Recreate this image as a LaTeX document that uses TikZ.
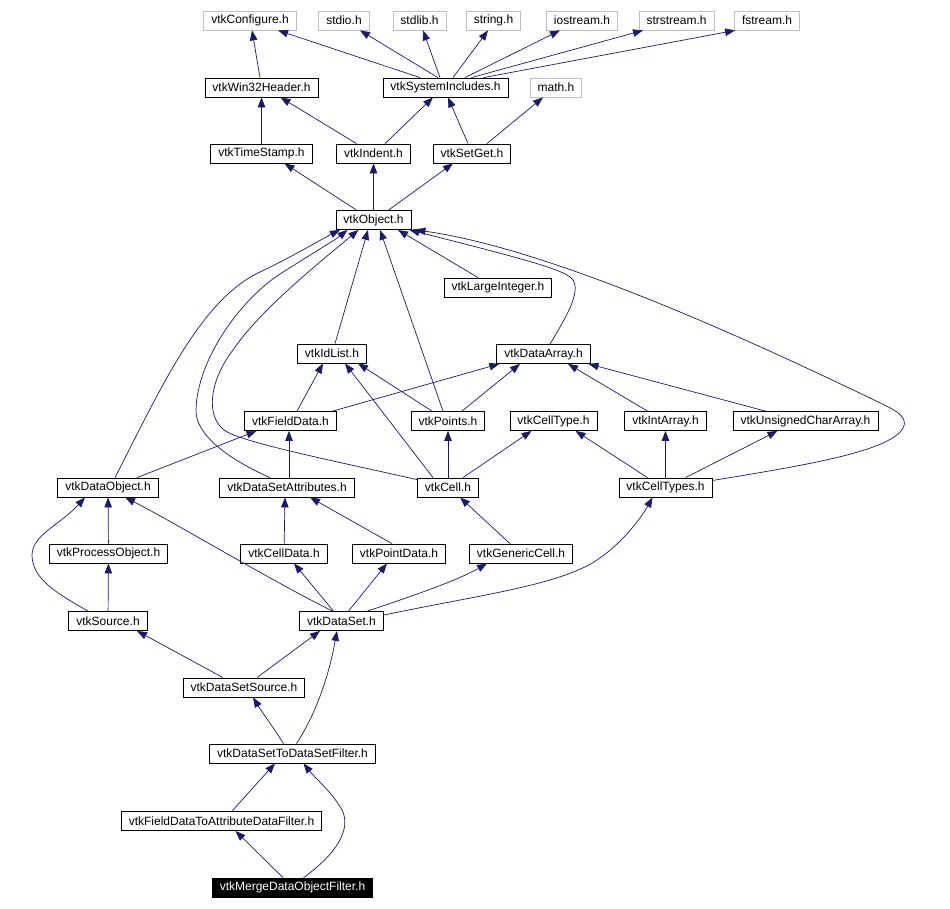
\documentclass[tikz,border=0pt]{standalone}
\usepackage{fontspec}
\setmainfont{Liberation Sans}
\definecolor{edge}{HTML}{191970}
\definecolor{sysgray}{HTML}{BFBFBF}
\usetikzlibrary{arrows.meta}
\tikzset{
  hdr/.style={draw=black, fill=white, font=\fontsize{12}{12}\selectfont,
              minimum height=19pt, inner xsep=7.5pt, inner ysep=0pt, line width=0.8pt},
  syshdr/.style={hdr, draw=sysgray},
  mainhdr/.style={hdr, fill=black, text=white},
  dep/.style={-{Triangle[length=10pt,width=7.5pt]}, color=edge, line width=0.7pt},
}
\begin{document}
\begin{tikzpicture}[x=1pt,y=-1pt]
\useasboundingbox (0,0) rectangle (950,909);
% system headers
\node[syshdr] (conf) at (250,20.5) {vtkConfigure.h};
\node[syshdr] (stdio) at (344,20.5) {stdio.h};
\node[syshdr] (stdlib) at (419.5,20.5) {stdlib.h};
\node[syshdr] (string) at (493.5,20.5) {string.h};
\node[syshdr] (iostream) at (582,20.5) {iostream.h};
\node[syshdr] (strstream) at (676.5,20.5) {strstream.h};
\node[syshdr] (fstream) at (767,20.5) {fstream.h};
\node[hdr] (win) at (261.5,87.5) {vtkWin32Header.h};
\node[hdr] (sysinc) at (445.5,87.5) {vtkSystemIncludes.h};
\node[syshdr] (math) at (556,87.5) {math.h};
\node[hdr] (tstamp) at (261.5,153.5) {vtkTimeStamp.h};
\node[hdr] (indent) at (373.5,153.5) {vtkIndent.h};
\node[hdr] (setget) at (472,153.5) {vtkSetGet.h};
\node[hdr] (obj) at (373.5,220) {vtkObject.h};
\node[hdr] (largeint) at (498,287.5) {vtkLargeInteger.h};
\node[hdr] (idlist) at (332,353.5) {vtkIdList.h};
\node[hdr] (darray) at (543.5,354) {vtkDataArray.h};
\node[hdr] (fdata) at (290.5,421) {vtkFieldData.h};
\node[hdr] (points) at (448,421) {vtkPoints.h};
\node[hdr] (celltype) at (553.5,421) {vtkCellType.h};
\node[hdr] (intarray) at (665.5,421) {vtkIntArray.h};
\node[hdr] (ucarray) at (805.5,421) {vtkUnsignedCharArray.h};
\node[hdr] (dobj) at (108,487.5) {vtkDataObject.h};
\node[hdr] (dsattr) at (287,487.5) {vtkDataSetAttributes.h};
\node[hdr] (cell) at (448,487.5) {vtkCell.h};
\node[hdr] (celltypes) at (665.5,487.5) {vtkCellTypes.h};
\node[hdr] (procobj) at (108.5,553.5) {vtkProcessObject.h};
\node[hdr] (celldata) at (284,553.5) {vtkCellData.h};
\node[hdr] (ptdata) at (399,553.5) {vtkPointData.h};
\node[hdr] (gencell) at (521,553.5) {vtkGenericCell.h};
\node[hdr] (source) at (108,621) {vtkSource.h};
\node[hdr] (dset) at (341.5,621) {vtkDataSet.h};
\node[hdr] (dssrc) at (244,687.5) {vtkDataSetSource.h};
\node[hdr] (dsfilter) at (292.5,753.5) {vtkDataSetToDataSetFilter.h};
\node[hdr] (fdfilter) at (221.5,821) {vtkFieldDataToAttributeDataFilter.h};
\node[mainhdr] (merge) at (292.5,887.5) {vtkMergeDataObjectFilter.h};
% includes, arrow at the included file
\draw[dep] ([xshift=-1.5pt]win.north) -- ([xshift=2pt]conf.south);
\draw[dep] ([xshift=-25.5pt]sysinc.north) -- ([xshift=28pt]conf.south);
\draw[dep] ([xshift=-7.5pt]sysinc.north) -- ([xshift=16pt]stdio.south);
\draw[dep] ([xshift=-5.5pt]sysinc.north) -- ([xshift=3.5pt]stdlib.south);
\draw[dep] ([xshift=7.5pt]sysinc.north) -- ([xshift=-5.5pt]string.south);
\draw[dep] ([xshift=19.5pt]sysinc.north) -- ([xshift=-22pt]iostream.south);
\draw[dep] ([xshift=26pt]sysinc.north) -- ([xshift=-33.5pt]strstream.south);
\draw[dep] ([xshift=38pt]sysinc.north) -- ([xshift=1pt]fstream.south west);
\draw[dep] (tstamp) -- (win);
\draw[dep] ([xshift=-17pt]indent.north) -- ([xshift=19pt]win.south);
\draw[dep] ([xshift=11.5pt]indent.north) -- ([xshift=-12.5pt]sysinc.south);
\draw[dep] ([xshift=-4pt]setget.north) -- ([xshift=2.5pt]sysinc.south);
\draw[dep] ([xshift=15pt]setget.north) -- ([xshift=-13pt]math.south);
\draw[dep] ([xshift=-17pt]obj.north) -- ([xshift=23pt]tstamp.south);
\draw[dep] (obj) -- (indent);
\draw[dep] ([xshift=15pt]obj.north) -- ([xshift=-19pt]setget.south);
\draw[dep] ([xshift=-20pt]largeint.north) -- ([xshift=24.5pt]obj.south);
\draw[dep] ([xshift=6.5pt]darray.north) .. controls (563,322) and (577,300) .. (575,285)
  .. controls (573,273) and (560,268) .. ([xshift=-2pt]obj.south east);
\draw[dep] ([yshift=7pt]celltypes.east) .. controls (800,466) and (890,452) .. (903,428)
  .. controls (910,415) and (890,408) .. (870,398)
  .. controls (780,355) and (560,250) .. ([xshift=4pt]obj.south east);
\draw[dep] ([xshift=3pt]idlist.north) -- ([xshift=-5.5pt]obj.south);
\draw[dep] ([xshift=-5pt]points.north) -- ([xshift=6.5pt]obj.south);
\draw[dep] ([xshift=-16pt]points.north) -- ([xshift=26pt]idlist.south);
\draw[dep] ([xshift=6.5pt]fdata.north) -- ([xshift=-9pt]idlist.south);
\draw[dep] ([xshift=-4pt]fdata.north east) -- ([xshift=3pt]darray.south west);
\draw[dep] ([xshift=14pt]points.north) -- ([xshift=-23.5pt]darray.south);
\draw[dep] ([xshift=-18pt]intarray.north) -- ([xshift=24.5pt]darray.south);
\draw[dep] ([xshift=-40pt]ucarray.north) -- ([xshift=45pt]darray.south);
\draw[dep] ([xshift=7pt]dobj.north) .. controls (160,390) and (200,300) .. (260,272)
  .. controls (290,258) and (320,240) .. ([xshift=-33.5pt]obj.south);
\draw[dep] ([xshift=29pt]dobj.north) -- ([xshift=-34pt]fdata.south);
\draw[dep] ([xshift=2pt]dsattr.north) -- ([xshift=-1.5pt]fdata.south);
\draw[dep] ([xshift=-17pt]dsattr.north) .. controls (230,460) and (195,435) .. (196,410)
  .. controls (197,360) and (240,300) .. (280,274)
  .. controls (305,258) and (335,240) .. ([xshift=-26pt]obj.south);
\draw[dep] ([yshift=-2pt]cell.north west) .. controls (330,460) and (240,442) .. (224,430)
  .. controls (205,415) and (210,380) .. (233,350)
  .. controls (260,310) and (320,262) .. ([xshift=-15pt]obj.south);
\draw[dep] ([xshift=-15pt]cell.north) -- ([xshift=13pt]idlist.south);
\draw[dep] (cell) -- (points);
\draw[dep] ([xshift=15pt]cell.north) -- ([xshift=-22pt]celltype.south);
\draw[dep] ([xshift=-18pt]celltypes.north) -- ([xshift=22pt]celltype.south);
\draw[dep] (celltypes) -- (intarray);
\draw[dep] ([xshift=20pt]celltypes.north) -- ([xshift=-28pt]ucarray.south);
\draw[dep] (procobj) -- (dobj);
\draw[dep] (source) -- (procobj);
\draw[dep] ([xshift=-20pt]source.north) .. controls (60,595) and (32,580) .. (32,555)
  .. controls (32,535) and (60,525) .. ([xshift=-23pt]dobj.south);
\draw[dep] (celldata) -- ([xshift=-2pt]dsattr.south);
\draw[dep] ([xshift=-7pt]ptdata.north) -- ([xshift=23pt]dsattr.south);
\draw[dep] ([xshift=-11pt]gencell.north) -- ([xshift=12pt]cell.south);
\draw[dep] ([xshift=-9pt]dset.north) .. controls (270,580) and (170,520) .. ([xshift=17pt]dobj.south);
\draw[dep] ([xshift=-8pt]dset.north) -- ([xshift=10pt]celldata.south);
\draw[dep] ([xshift=7pt]dset.north) -- ([xshift=-12pt]ptdata.south);
\draw[dep] ([xshift=26pt]dset.north) .. controls (400,600) and (455,582) .. ([xshift=-34pt]gencell.south);
\draw[dep] ([yshift=6pt]dset.east) .. controls (480,595) and (560,585) .. (597,560)
  .. controls (620,545) and (640,520) .. ([xshift=-13pt]celltypes.south);
\draw[dep] ([xshift=-21pt]dssrc.north) -- ([xshift=29pt]source.south);
\draw[dep] ([xshift=13pt]dssrc.north) -- ([xshift=-21.5pt]dset.south);
\draw[dep] ([xshift=-9pt]dsfilter.north) .. controls (275,730) and (262,712) .. ([xshift=9pt]dssrc.south);
\draw[dep] ([xshift=4pt]dsfilter.north) .. controls (315,715) and (328,680) .. ([xshift=-4.5pt]dset.south);
\draw[dep] ([xshift=10.5pt]fdfilter.north) -- ([xshift=-17.5pt]dsfilter.south);
\draw[dep] ([xshift=-9.5pt]merge.north) -- ([xshift=14pt]fdfilter.south);
\draw[dep] ([xshift=11pt]merge.north) .. controls (335,855) and (352,830) .. (342,810)
  .. controls (332,792) and (315,778) .. ([xshift=11pt]dsfilter.south);
\end{tikzpicture}
\end{document}
